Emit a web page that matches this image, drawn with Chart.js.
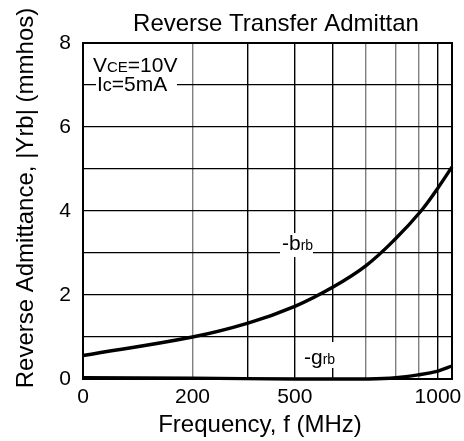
<!DOCTYPE html>
<html><head><meta charset="utf-8">
<script src="https://cdn.jsdelivr.net/npm/chart.js@4"></script>
<style>html,body{margin:0;padding:0;background:#fff}#wrap{width:464px;height:441px}</style>
</head><body><div id="wrap"><canvas id="c" width="464" height="441"></canvas></div>
<script>
// Data (x = frequency on a log axis, y = mmhos)
const freqBrb = [100, 198, 280, 375, 476, 585, 705, 824, 916, 1000];
const valBrb  = [0.56, 1.0, 1.33, 1.73, 2.19, 2.70, 3.35, 4.0, 4.55, 5.05];
const freqGrb = [100, 198, 375, 476, 585, 705, 813, 916, 1000];
const valGrb  = [0.03, 0.02, 0.0, 0.0, 0.0, 0.03, 0.10, 0.19, 0.31];
const xGridValues = [100, 198, 280, 375, 476, 585, 705, 813, 916, 1000];
const xTickLabels = ['0', '200', '', '500', '', '', '', '', '1000', ''];
const xGridShade  = ['k', 'g', 'k', 'k', 'k', 'g', 'g', 'g', 'k', 'k'];
const yTickValues = [0, 1, 2, 3, 4, 5, 6, 7, 8];
const yTickLabels = ['0', '', '2', '', '4', '', '6', '', '8'];

const FONT = '"Liberation Sans", Arial, sans-serif';

const textPlugin = {
  id: 'texts',
  afterDatasetsDraw(chart) {
    const ctx = chart.ctx;
    const a = chart.chartArea;
    ctx.save();
    ctx.strokeStyle = '#000';
    ctx.lineWidth = 2;
    ctx.strokeRect(a.left, a.top, a.right - a.left, a.bottom - a.top);
    ctx.fillStyle = '#000';
    ctx.textBaseline = 'alphabetic';
    ctx.font = '24px ' + FONT;
    ctx.textAlign = 'center';
    ctx.fillText('Reverse Transfer Admittan', 276, 31);
    ctx.fillText('Frequency, f (MHz)', 260, 432);
    ctx.save();
    ctx.translate(33, 198);
    ctx.rotate(-Math.PI / 2);
    ctx.fillText('Reverse Admittance, |Yrb| (mmhos)', 0, 0);
    ctx.restore();
    ctx.textAlign = 'left';
    ctx.fillStyle = '#fff';
    ctx.fillRect(96, 76, 81, 18);
    ctx.fillStyle = '#000';
    let x = 93;
    ctx.font = '21px ' + FONT; ctx.fillText('V', x, 72); x += ctx.measureText('V').width;
    ctx.font = '15px ' + FONT; ctx.fillText('CE', x, 72); x += ctx.measureText('CE').width;
    ctx.font = '21px ' + FONT; ctx.fillText('=10V', x, 72);
    x = 97;
    ctx.font = '21px ' + FONT; ctx.fillText('I', x, 91); x += ctx.measureText('I').width;
    ctx.font = '18px ' + FONT; ctx.fillText('c', x, 91); x += ctx.measureText('c').width;
    ctx.font = '21px ' + FONT; ctx.fillText('=5mA', x, 91);
    function label(main, sub, x0, base, box) {
      ctx.fillStyle = '#fff';
      ctx.fillRect(box[0], box[1], box[2], box[3]);
      ctx.fillStyle = '#000';
      ctx.font = '21px ' + FONT; ctx.fillText(main, x0, base);
      const w = ctx.measureText(main).width;
      ctx.font = '14px ' + FONT; ctx.fillText(sub, x0 + w, base);
    }
    label('-b', 'rb', 282, 250, [280, 233, 33, 24]);
    label('-g', 'rb', 304, 364, [300, 342, 38, 26]);
    ctx.restore();
  }
};

const gridColor = (ctx) => (xGridShade[ctx.index] === 'g' ? '#808080' : '#000');

new Chart(document.getElementById('c'), {
  type: 'line',
  data: {
    datasets: [
      {
        label: '-brb',
        data: freqBrb.map((f, i) => ({ x: f, y: valBrb[i] })),
        borderColor: '#000', borderWidth: 3.4, pointRadius: 0,
        tension: 0.4, fill: false, clip: 4
      },
      {
        label: '-grb',
        data: freqGrb.map((f, i) => ({ x: f, y: valGrb[i] })),
        borderColor: '#000', borderWidth: 3.4, pointRadius: 0,
        tension: 0.4, fill: false, clip: 4
      }
    ]
  },
  options: {
    responsive: false,
    animation: false,
    devicePixelRatio: 1,
    layout: { padding: { top: 43, right: 12, left: 0, bottom: 0 } },
    plugins: { legend: { display: false }, tooltip: { enabled: false }, title: { display: false } },
    scales: {
      x: {
        type: 'logarithmic', min: 100, max: 1000,
        afterBuildTicks: (s) => { s.ticks = xGridValues.map(v => ({ value: v })); },
        afterFit: (s) => { s.height = 62; },
        ticks: {
          autoSkip: false, maxRotation: 0, minRotation: 0, padding: 6, color: '#000',
          font: { family: FONT, size: 21 },
          callback: (v, i) => xTickLabels[i]
        },
        grid: { color: gridColor, lineWidth: 1.4, drawTicks: false },
        border: { color: '#000', width: 2 }
      },
      y: {
        min: 0, max: 8,
        afterBuildTicks: (s) => { s.ticks = yTickValues.map(v => ({ value: v })); },
        afterFit: (s) => { s.width = 83; },
        ticks: {
          autoSkip: false, padding: 12, color: '#000',
          font: { family: FONT, size: 21 },
          callback: (v, i) => yTickLabels[i]
        },
        grid: { color: '#000', lineWidth: 1.3, drawTicks: false },
        border: { color: '#000', width: 2 }
      }
    }
  },
  plugins: [textPlugin]
});
</script>
</body></html>
